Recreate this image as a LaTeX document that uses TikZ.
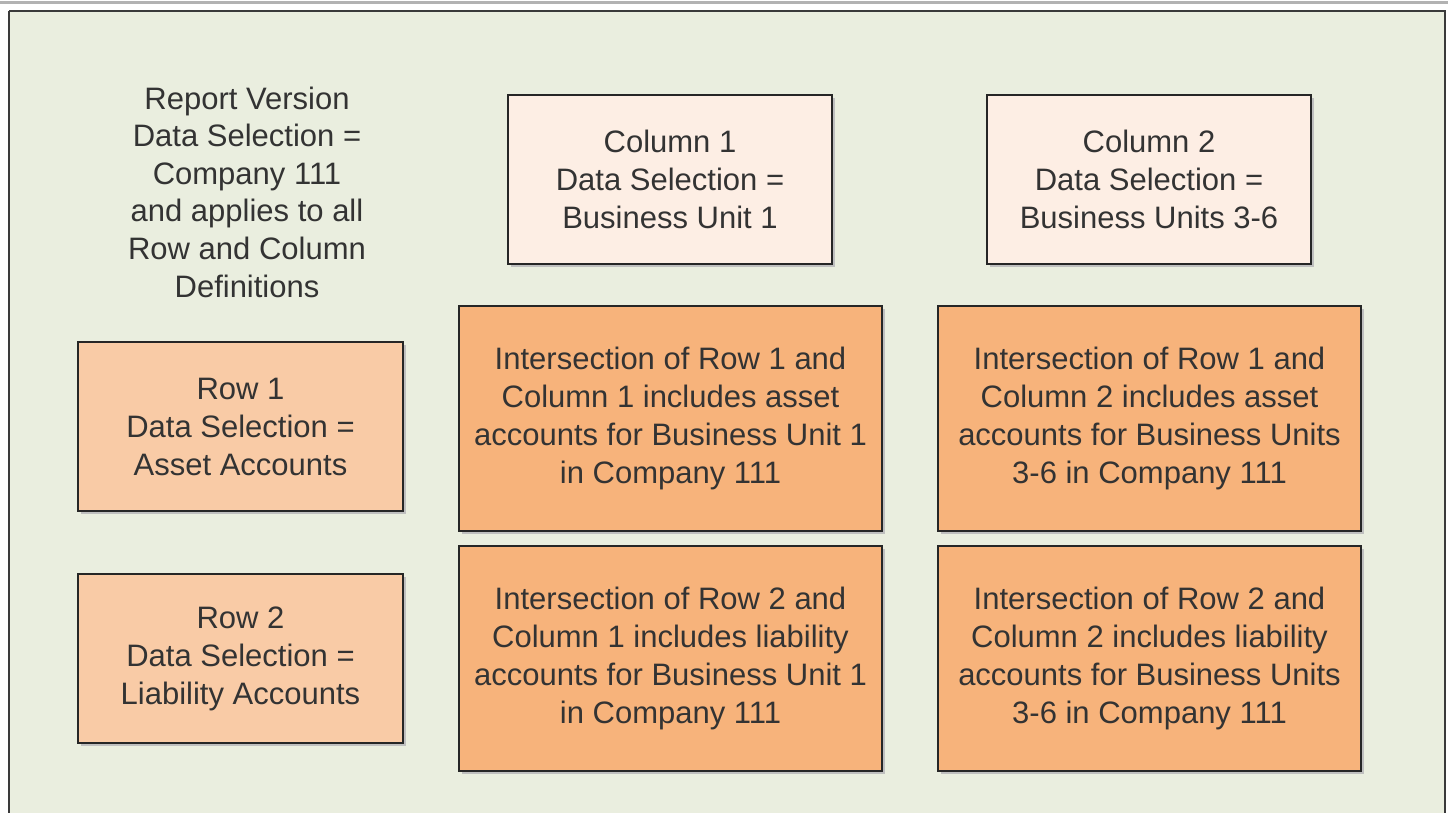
\documentclass[tikz,border=0pt]{standalone}
\usepackage{fontspec}
\setmainfont{Liberation Sans}
\definecolor{bgc}{HTML}{EAEEDF}
\definecolor{colc}{HTML}{FDEEE4}
\definecolor{rowc}{HTML}{F9CBA6}
\definecolor{intc}{HTML}{F7B37B}
\definecolor{txtc}{HTML}{333333}
\definecolor{framec}{HTML}{3A3A3A}
\tikzset{
  box/.style={draw=black!85, line width=1.6pt, inner sep=0pt, outer sep=0pt,
    text=txtc, align=center, font=\fontsize{31}{38}\selectfont,
    drop shadow/.style={}},
  colbox/.style={box, fill=colc},
  rowbox/.style={box, fill=rowc},
  intbox/.style={box, fill=intc},
  plain/.style={text=txtc, align=center, font=\fontsize{31}{37.6}\selectfont, inner sep=0pt}
}
\begin{document}
\begin{tikzpicture}[x=1pt,y=-1pt]
\useasboundingbox (0,0) rectangle (1448,812);
\fill[white] (0,0) rectangle (1448,812);
\fill[black!30] (0,1) rectangle (1448,4);
\fill[bgc] (9,11) rectangle (1445,830);
\draw[framec, line width=2.4pt] (9,11) -- (9,830);
\draw[framec, line width=2.4pt] (9,11) -- (1445,11) -- (1445,830);
% boxes (with slight shadow)
\foreach \a/\b/\c/\d in {508/95/832/264, 987/95/1311/264, 78/342/403/511, 78/574/403/743, 459/306/882/531, 938/306/1361/531, 459/546/882/771, 938/546/1361/771}{
  \fill[black!25] (\a+3,\b+3) rectangle (\c+3,\d+3);
}
\node[plain] (rv) at (247,192) {Report Version\\Data Selection =\\Company 111\\and applies to all\\Row and Column\\Definitions};
\node[colbox, minimum width=324pt, minimum height=169pt] (c1) at (670,179.5) {Column 1\\Data Selection =\\Business Unit 1};
\node[colbox, minimum width=324pt, minimum height=169pt] (c2) at (1149,179.5) {Column 2\\Data Selection =\\Business Units 3-6};
\node[rowbox, minimum width=325pt, minimum height=169pt] (r1) at (240.5,426.5) {Row 1\\Data Selection =\\Asset Accounts};
\node[rowbox, minimum width=325pt, minimum height=169pt] (r2) at (240.5,658.5) {Row 2\\Data Selection =\\Liability Accounts};
\node[intbox, minimum width=423pt, minimum height=225pt] (i11) at (670.5,418.5) {Intersection of Row 1 and\\Column 1 includes asset\\accounts for Business Unit 1\\in Company 111};
\node[intbox, minimum width=423pt, minimum height=225pt] (i12) at (1149.5,418.5) {Intersection of Row 1 and\\Column 2 includes asset\\accounts for Business Units\\3-6 in Company 111};
\node[intbox, minimum width=423pt, minimum height=225pt] (i21) at (670.5,658.5) {Intersection of Row 2 and\\Column 1 includes liability\\accounts for Business Unit 1\\in Company 111};
\node[intbox, minimum width=423pt, minimum height=225pt] (i22) at (1149.5,658.5) {Intersection of Row 2 and\\Column 2 includes liability\\accounts for Business Units\\3-6 in Company 111};
\end{tikzpicture}
\end{document}
